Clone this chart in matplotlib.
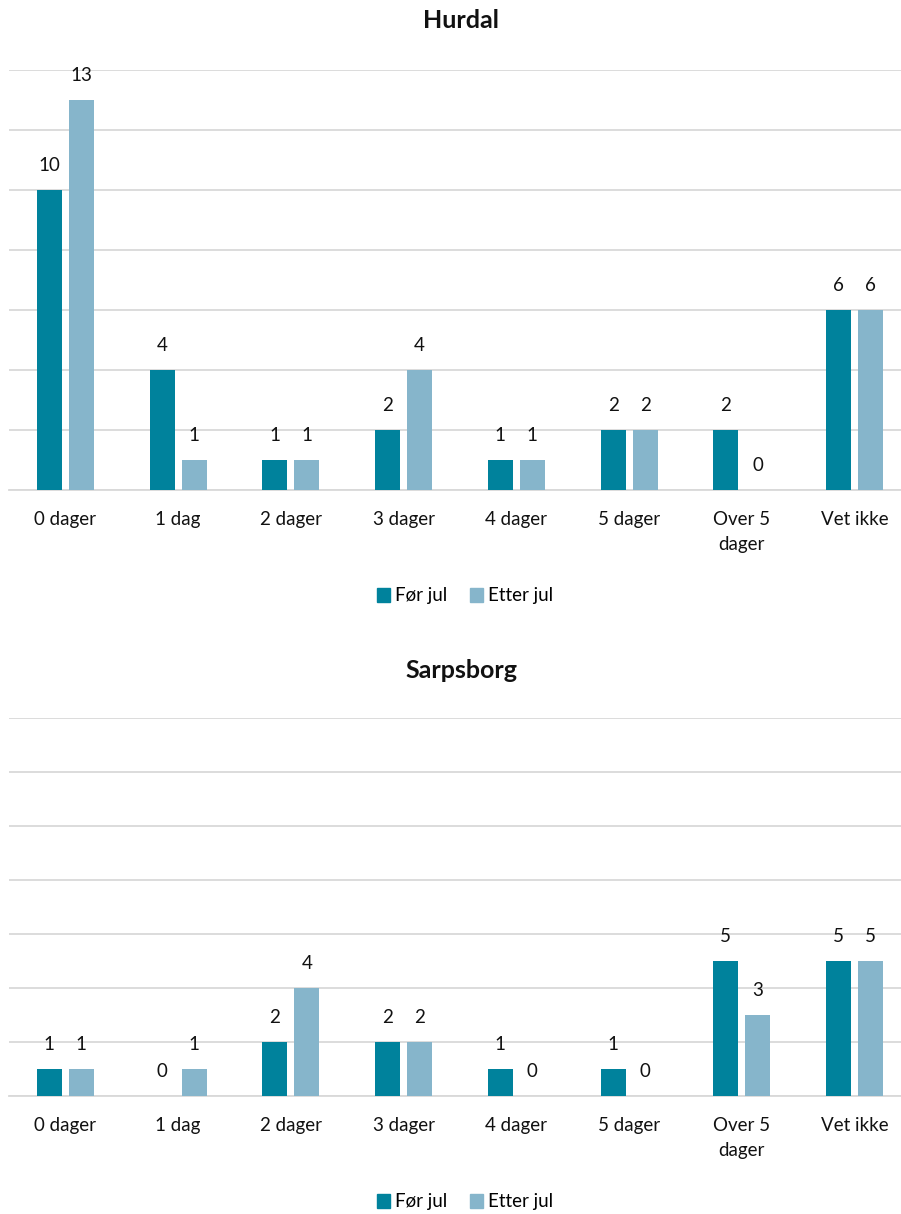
import numpy as np
import matplotlib.pyplot as plt
from matplotlib.patches import Patch

plt.rcParams['font.family'] = ['Lato', 'DejaVu Sans']

# data
categories = ['0 dager', '1 dag', '2 dager', '3 dager', '4 dager', '5 dager', 'Over 5\ndager', 'Vet ikke']
series_names = ['Før jul', 'Etter jul']
hurdal_for = [10, 4, 1, 2, 1, 2, 2, 6]
hurdal_etter = [13, 1, 1, 4, 1, 2, 0, 6]
sarpsborg_for = [1, 0, 2, 2, 1, 1, 5, 5]
sarpsborg_etter = [1, 1, 4, 2, 0, 0, 3, 5]

dark = '#00829C'
light = '#86B5CB'
grid_col = '#D9D9D9'

fig = plt.figure(figsize=(9.01, 12.14), dpi=100)

W, H = 901, 1214


def px_axes(left, top, right, bottom):
    return fig.add_axes([left / W, 1 - bottom / H, (right - left) / W, (bottom - top) / H])


def draw(ax, v1, v2, title, title_y, legend_y):
    x = np.arange(len(categories))
    bw = 0.222
    off = 0.142
    ax.bar(x - off, v1, bw, color=dark, zorder=3)
    ax.bar(x + off, v2, bw, color=light, zorder=3)
    # verdier over søylene
    for xi, a, b in zip(x, v1, v2):
        ax.annotate(str(a), (xi - off, a), xytext=(0, 17.5), textcoords='offset points',
                    ha='center', va='center', fontsize=13.5, color='#111111')
        ax.annotate(str(b), (xi + off, b), xytext=(0, 17.5), textcoords='offset points',
                    ha='center', va='center', fontsize=13.5, color='#111111')
    ax.set_xlim(-0.5, len(categories) - 0.5)
    ax.set_ylim(0, 14)
    ax.set_yticks(np.arange(0, 15, 2))
    ax.set_yticklabels([])
    ax.tick_params(axis='y', length=0)
    ax.yaxis.grid(True, color=grid_col, linewidth=1.3, zorder=0)
    ax.set_xticks(x)
    ax.set_xticklabels(categories, fontsize=13.5, color='#111111')
    for lab in ax.get_xticklabels():
        lab.set_linespacing(1.55)
    ax.tick_params(axis='x', length=0, pad=15)
    for s in ['top', 'right', 'left']:
        ax.spines[s].set_visible(False)
    ax.spines['bottom'].set_color(grid_col)
    ax.spines['bottom'].set_linewidth(1.3)
    ax.spines['bottom'].set_zorder(1)
    fig.text(461 / W, 1 - title_y / H, title, ha='center', va='center',
             fontsize=18, fontweight='bold', color='#111111')
    handles = [Patch(color=dark), Patch(color=light)]
    fig.legend(handles, series_names, loc='center', bbox_to_anchor=(465 / W, 1 - legend_y / H),
               ncol=2, frameon=False, fontsize=13.5, handlelength=0.7, handleheight=0.7,
               handletextpad=0.25, columnspacing=1.2)


ax1 = px_axes(9, 70, 911, 490)
draw(ax1, hurdal_for, hurdal_etter, 'Hurdal', 20, 596)

ax2 = px_axes(9, 718, 911, 1096)
draw(ax2, sarpsborg_for, sarpsborg_etter, 'Sarpsborg', 670, 1202)

fig.savefig('out.png', dpi=100)
